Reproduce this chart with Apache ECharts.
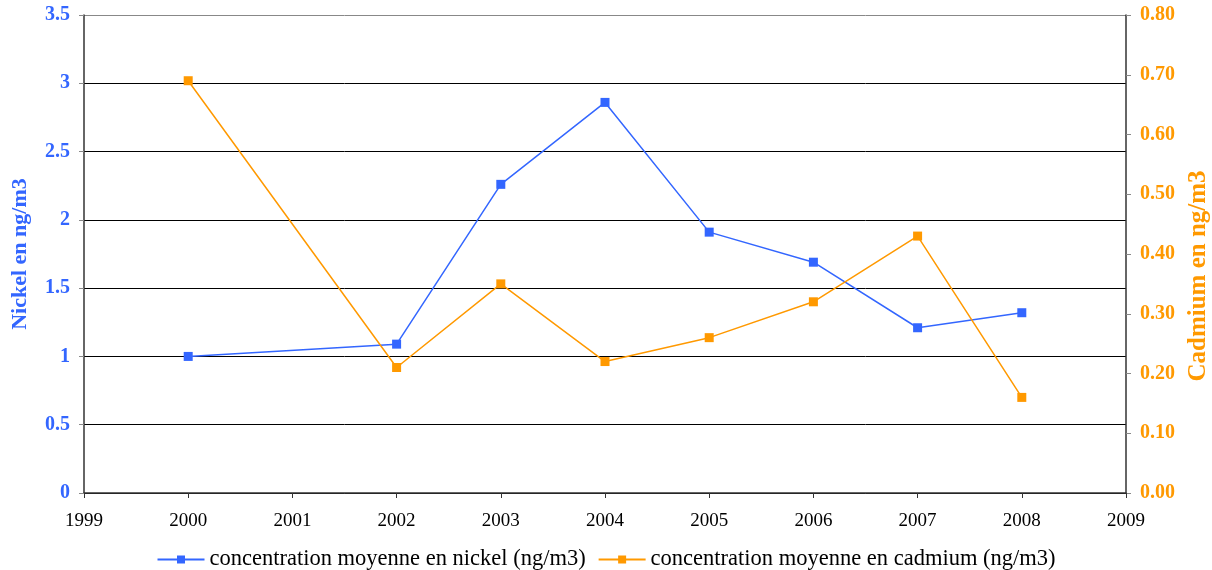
<!DOCTYPE html>
<html><head><meta charset="utf-8">
<script src="https://cdn.jsdelivr.net/npm/echarts@6/dist/echarts.min.js"></script>
<style>html,body{margin:0;padding:0;background:#fff}#c{width:1212px;height:570px}</style>
</head><body><div id="c"></div>
<script>
const years = [2000, 2002, 2003, 2004, 2005, 2006, 2007, 2008];
const nickel = [1.00, 1.09, 2.26, 2.86, 1.91, 1.69, 1.21, 1.32];
const cadmium = [0.69, 0.21, 0.35, 0.22, 0.26, 0.32, 0.43, 0.16];
const seriesNames = ['concentration moyenne en nickel (ng/m3)', 'concentration moyenne en cadmium (ng/m3)'];
const blue = '#3366FF', orange = '#FF9900';
const ff = '"Liberation Serif", "DejaVu Serif", serif';
const chart = echarts.init(document.getElementById('c'), null, {renderer: 'canvas'});
chart.setOption({
  animation: false,
  backgroundColor: '#fff',
  grid: {left: 84, right: 86, top: 15, bottom: 77, containLabel: false, outerBoundsMode: 'none'},
  legend: {
    data: seriesNames, top: 543, left: 'center', itemWidth: 47, itemHeight: 10, itemGap: 12,
    textStyle: {fontFamily: ff, fontSize: 22.5, color: '#000'}
  },
  xAxis: {
    type: 'value', min: 1999, max: 2009, interval: 1,
    axisLine: {lineStyle: {color: '#333', width: 1.5}},
    axisTick: {length: 5, lineStyle: {color: '#333'}},
    axisLabel: {margin: 19, fontFamily: ff, fontSize: 19, color: '#000', formatter: v => String(v)},
    splitLine: {show: false}
  },
  yAxis: [{
    type: 'value', min: 0, max: 3.5, interval: 0.5, position: 'left',
    name: 'Nickel en ng/m3', nameLocation: 'middle', nameGap: 53, nameRotate: 90,
    nameTextStyle: {fontFamily: ff, fontSize: 22, fontWeight: 'bold', color: blue},
    axisLine: {show: true, lineStyle: {color: '#333', width: 1.5}},
    axisTick: {show: true, length: 5, inside: false, lineStyle: {color: '#888'}},
    axisLabel: {margin: 14, fontFamily: ff, fontSize: 20, fontWeight: 'bold', color: blue},
    splitLine: {show: true, lineStyle: {color: ['#000','#000','#000','#000','#000','#000','#000','#888'], width: 1}}
  }, {
    type: 'value', min: 0, max: 0.8, interval: 0.1, position: 'right',
    name: 'Cadmium en ng/m3', nameLocation: 'middle', nameGap: 55, nameRotate: 90,
    nameTextStyle: {fontFamily: ff, fontSize: 25, fontWeight: 'bold', color: orange, padding: [0, 44, 0, 0]},
    axisLine: {show: true, lineStyle: {color: '#333', width: 1.5}},
    axisTick: {show: true, length: 5, inside: false, lineStyle: {color: '#888'}},
    axisLabel: {margin: 14, fontFamily: ff, fontSize: 20, fontWeight: 'bold', color: orange, formatter: v => v.toFixed(2)},
    splitLine: {show: false}
  }],
  series: [{
    name: seriesNames[0], type: 'line', yAxisIndex: 0,
    data: years.map((y, i) => [y, nickel[i]]),
    symbol: 'rect', symbolSize: 9, showAllSymbol: true,
    itemStyle: {color: blue}, lineStyle: {color: blue, width: 1.5}
  }, {
    name: seriesNames[1], type: 'line', yAxisIndex: 1,
    data: years.map((y, i) => [y, cadmium[i]]),
    symbol: 'rect', symbolSize: 9, showAllSymbol: true,
    itemStyle: {color: orange}, lineStyle: {color: orange, width: 1.5}
  }]
});
</script></body></html>
